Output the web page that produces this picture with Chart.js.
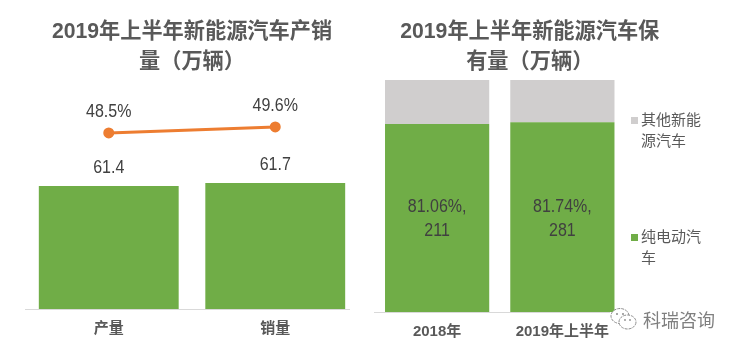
<!DOCTYPE html>
<html>
<head>
<meta charset="utf-8">
<script src="https://cdn.jsdelivr.net/npm/chart.js@4"></script>
<style>
  html, body { margin: 0; padding: 0; background: #fff; }
  #page { position: relative; width: 738px; height: 352px; overflow: hidden;
          font-family: "Liberation Sans", "Noto Sans CJK SC", sans-serif; }
  canvas { position: absolute; top: 0; }
  .legend { position: absolute; left: 641px; width: 64px; font-size: 15px; line-height: 21px; color: #595959; }
  .legend i { position: absolute; left: -10px; top: 8px; width: 7px; height: 7px; }
  #mark { position: absolute; left: 643px; top: 309px; font-size: 18px; line-height: 24px; color: #7f7f7f; white-space: nowrap; }
  #icon { position: absolute; left: 609px; top: 306px; width: 29px; height: 26px; }
</style>
</head>
<body>
<div id="page">
  <canvas id="salesChart" width="369" height="352" style="left:0"></canvas>
  <canvas id="stockChart" width="316" height="352" style="left:369px"></canvas>
  <div class="legend" id="legendOther" style="top:109px"></div>
  <div class="legend" id="legendEv" style="top:226px"></div>
  <svg id="icon" viewBox="0 0 29 26">
    <ellipse cx="11" cy="10" rx="9" ry="7.5" fill="#fff" stroke="#8c8c8c" stroke-width="1" stroke-dasharray="3 1"/>
    <ellipse cx="18.5" cy="16" rx="8.5" ry="7" fill="#fff" stroke="#8c8c8c" stroke-width="1" stroke-dasharray="3 1"/>
    <circle cx="8" cy="8" r="1" fill="#8c8c8c"/>
    <circle cx="14" cy="8" r="1" fill="#8c8c8c"/>
    <circle cx="16" cy="14" r="0.9" fill="#8c8c8c"/>
    <circle cx="21" cy="14" r="0.9" fill="#8c8c8c"/>
  </svg>
  <div id="mark">科瑞咨询</div>
</div>
<script>
const salesTitle = ['2019年上半年新能源汽车产销', '量（万辆）'];
const salesCategories = ['产量', '销量'];
const salesValues = [61.4, 61.7];
const shareValues = [48.5, 49.6];

const stockTitle = ['2019年上半年新能源汽车保', '有量（万辆）'];
const stockCategories = ['2018年', '2019年上半年'];
const evShare = [81.06, 81.74];
const otherShare = [18.94, 18.26];
const evCount = [211, 281];
const evLegendName = '纯电动汽车';
const otherLegendName = '其他新能源汽车';

const FONT = '"Liberation Sans", "Noto Sans CJK SC", sans-serif';
const GREEN = '#70ad47';
const GREY = '#d0cece';
const ORANGE = '#ed7d31';

// Value labels, drawn on top of the datasets. The source's digits are tall and narrow,
// so they are set at 18px and squeezed through fillText's maxWidth
const valueLabels = {
    id: 'valueLabels',
    afterDatasetsDraw(chart, args, opts) {
        const ctx = chart.ctx;
        ctx.save();
        ctx.font = '18px ' + FONT;
        ctx.fillStyle = '#404040';
        ctx.textAlign = 'center';
        ctx.textBaseline = 'middle';
        opts.items.forEach(item => {
            chart.getDatasetMeta(item.dataset).data.forEach((el, i) => {
                const lines = item.text(i);
                const center = (item.center ? (el.y + el.base) / 2 : el.y) + item.dy;
                lines.forEach((line, n) => {
                    const y = center + (n - (lines.length - 1) / 2) * 24;
                    ctx.fillText(line, el.x, y, ctx.measureText(line).width * 0.89);
                });
            });
        });
        ctx.restore();
    }
};

// Category axis rule. The left one stops short of the plot's right edge
const baseLine = {
    id: 'baseLine',
    afterDraw(chart, args, opts) {
        const ctx = chart.ctx;
        const y = chart.chartArea.bottom + 0.5;
        ctx.save();
        ctx.strokeStyle = '#d9d9d9';
        ctx.lineWidth = 1;
        ctx.beginPath();
        ctx.moveTo(opts.from, y);
        ctx.lineTo(opts.to, y);
        ctx.stroke();
        ctx.restore();
    }
};

function titleOptions(lines) {
    return {
        display: true,
        text: lines,
        color: '#595959',
        font: { family: FONT, size: 21.2, weight: 'bold', lineHeight: 1.38 },
        padding: { top: 18, bottom: 3.5 }
    };
}

function categoryAxis(height) {
    return {
        offset: true,
        afterFit: scale => { scale.height = height; },
        grid: { display: false },
        border: { display: false },
        ticks: {
            color: '#595959',
            padding: 3,
            maxRotation: 0,
            font: { family: FONT, size: 15, weight: 'bold' }
        }
    };
}

new Chart(document.getElementById('salesChart'), {
    data: {
        labels: salesCategories,
        datasets: [
            {
                type: 'line',
                data: shareValues,
                yAxisID: 'share',
                borderColor: ORANGE,
                backgroundColor: ORANGE,
                borderWidth: 3,
                pointRadius: 4,
                order: 1
            },
            {
                type: 'bar',
                data: salesValues,
                yAxisID: 'y',
                backgroundColor: GREEN,
                barPercentage: 0.84,
                categoryPercentage: 1,
                order: 2
            }
        ]
    },
    options: {
        responsive: false,
        animation: false,
        layout: { padding: { left: 25.5, right: 10.5 } },
        plugins: {
            legend: { display: false },
            tooltip: { enabled: false },
            title: titleOptions(salesTitle),
            valueLabels: {
                items: [
                    { dataset: 0, dy: -21, text: i => [shareValues[i].toFixed(1) + '%'] },
                    { dataset: 1, dy: -18, text: i => [salesValues[i].toFixed(1)] }
                ]
            },
            baseLine: { from: 25, to: 350 }
        },
        scales: {
            x: categoryAxis(43),
            // axes are cut off the way the picture has them: the bars do not start at zero
            y: { display: false, min: 49.1, max: 72 },
            share: { display: false, min: 16.2, max: 58.2 }
        }
    },
    plugins: [valueLabels, baseLine]
});

new Chart(document.getElementById('stockChart'), {
    type: 'bar',
    data: {
        labels: stockCategories,
        datasets: [
            { label: evLegendName, data: evShare, backgroundColor: GREEN },
            { label: otherLegendName, data: otherShare, backgroundColor: GREY }
        ]
    },
    options: {
        responsive: false,
        animation: false,
        layout: { padding: { left: 5.5 } },
        datasets: { bar: { barPercentage: 0.832, categoryPercentage: 1 } },
        plugins: {
            legend: { display: false },
            tooltip: { enabled: false },
            title: titleOptions(stockTitle),
            valueLabels: {
                items: [
                    { dataset: 0, center: true, dy: 1.5, text: i => [evShare[i].toFixed(2) + '%,', String(evCount[i])] }
                ]
            },
            baseLine: { from: 5, to: 241 }
        },
        scales: {
            x: Object.assign(categoryAxis(40), { stacked: true }),
            // hidden axis on the right keeps room for the html legend
            y: {
                stacked: true,
                min: 0,
                max: 100,
                position: 'right',
                afterFit: scale => { scale.width = 60; },
                grid: { display: false },
                border: { display: false },
                ticks: { display: false }
            }
        }
    },
    plugins: [valueLabels, baseLine]
});

// Wrapped legend entries, the library's legend cannot break a label
function fillLegend(id, name, color) {
    const box = document.getElementById(id);
    box.textContent = name;
    const swatch = document.createElement('i');
    swatch.style.background = color;
    box.appendChild(swatch);
}
fillLegend('legendOther', otherLegendName, GREY);
fillLegend('legendEv', evLegendName, GREEN);
</script>
</body>
</html>
